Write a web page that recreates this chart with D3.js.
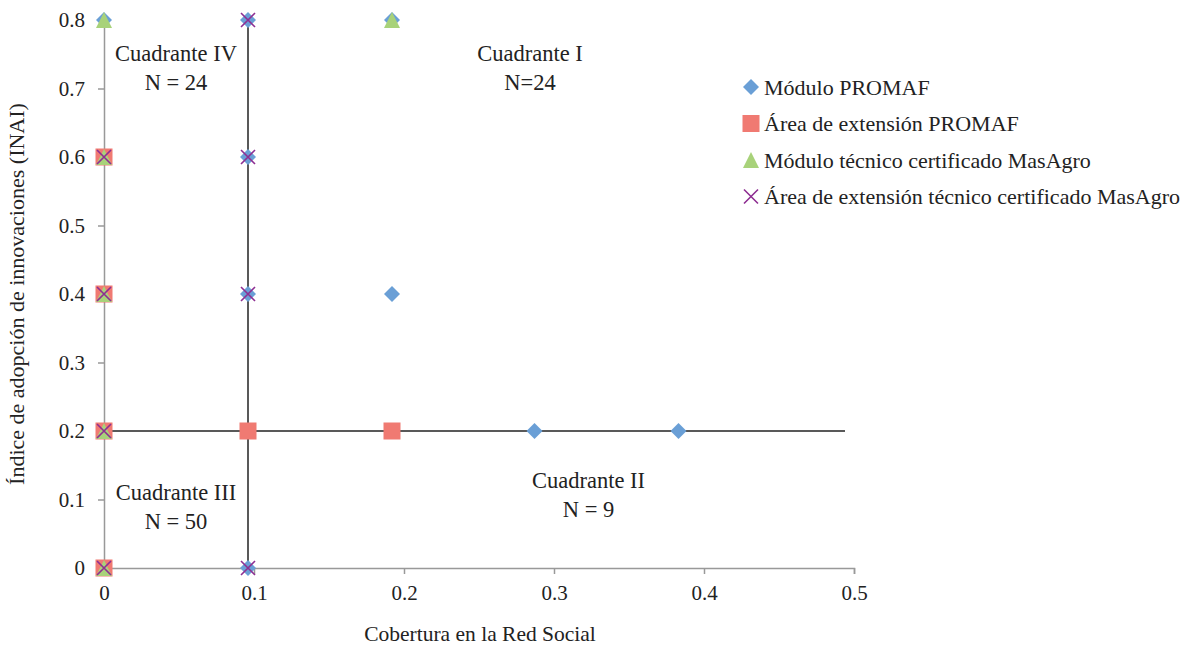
<!DOCTYPE html>
<html>
<head>
<meta charset="utf-8">
<script src="https://cdn.jsdelivr.net/npm/d3@7"></script>
<style>
  body { margin: 0; background: #fff; }
  svg text { font-family: "Liberation Serif", "DejaVu Serif", serif; fill: #222; }
</style>
</head>
<body>
<svg id="chart" width="1194" height="646"></svg>
<script>
// series (x = cobertura, y = INAI)
const seriesNames = ["Módulo PROMAF", "Área de extensión PROMAF",
                     "Módulo técnico certificado MasAgro", "Área de extensión técnico certificado MasAgro"];
const moduloPromaf = [[0, 0.8], [0.096, 0.8], [0.192, 0.8], [0.096, 0.6], [0.096, 0.4],
                      [0.192, 0.4], [0.287, 0.2], [0.383, 0.2], [0.096, 0]];
const areaPromaf = [[0, 0.6], [0, 0.4], [0, 0.2], [0, 0], [0.096, 0.2], [0.192, 0.2]];
const moduloMasAgro = [[0, 0.8], [0.192, 0.8], [0, 0.6], [0, 0.4], [0, 0.2], [0, 0]];
const areaMasAgro = [[0.096, 0.8], [0.096, 0.6], [0.096, 0.4], [0, 0.6], [0, 0.4],
                     [0, 0.2], [0, 0], [0.096, 0]];

const xTicks = [0, 0.1, 0.2, 0.3, 0.4, 0.5];
const yTicks = [0, 0.1, 0.2, 0.3, 0.4, 0.5, 0.6, 0.7, 0.8];

// quadrant divider lines
const vLineX = 0.096, hLineY = 0.2, hLineEnd = 0.494;

const quadrants = [
  { name: "Cuadrante IV", n: "N = 24", x: 0.048, y: 0.74 },
  { name: "Cuadrante I", n: "N=24", x: 0.284, y: 0.74 },
  { name: "Cuadrante III", n: "N = 50", x: 0.048, y: 0.1 },
  { name: "Cuadrante II", n: "N = 9", x: 0.323, y: 0.117 }
];

const colors = ["#6a9fd6", "#f07a72", "#a8d27a", "#8e2e92"];

const svg = d3.select("#chart");
const x = d3.scaleLinear().domain([0, 0.5]).range([104, 854]);
const y = d3.scaleLinear().domain([0, 0.8]).range([568, 20]);

// axes
const xAxis = d3.axisBottom(x).tickValues(xTicks).tickSize(6).tickPadding(11)
  .tickFormat(d => d === 0 ? "0" : d3.format(".1f")(d));
const yAxis = d3.axisLeft(y).tickValues(yTicks).tickSize(6).tickPadding(13)
  .tickFormat(d => d === 0 ? "0" : d3.format(".1f")(d));

const gx = svg.append("g").attr("transform", "translate(0,568)").call(xAxis);
const gy = svg.append("g").attr("transform", "translate(104,0)").call(yAxis);
[gx, gy].forEach(g => {
  g.attr("font-family", null);
  g.select(".domain").attr("stroke", "#999").attr("stroke-width", 1.5);
  g.selectAll(".tick line").attr("stroke", "#999").attr("stroke-width", 1.5);
  g.selectAll(".tick text").style("font-size", "21px").attr("fill", "#222");
});
gx.selectAll(".tick").filter(d => d === 0).select("line").remove();

// divider lines
svg.append("line")
  .attr("x1", x(vLineX)).attr("x2", x(vLineX))
  .attr("y1", y(0)).attr("y2", y(0.8))
  .attr("stroke", "#222").attr("stroke-width", 1.5);
svg.append("line")
  .attr("x1", x(0)).attr("x2", x(hLineEnd))
  .attr("y1", y(hLineY)).attr("y2", y(hLineY))
  .attr("stroke", "#222").attr("stroke-width", 1.5);

// markers
function drawMarker(g, i, cx, cy) {
  if (i === 0) {
    g.append("path").attr("d", `M${cx},${cy - 8}L${cx + 8},${cy}L${cx},${cy + 8}L${cx - 8},${cy}Z`)
      .attr("fill", colors[0]);
  } else if (i === 1) {
    g.append("rect").attr("x", cx - 8.5).attr("y", cy - 8.5).attr("width", 17).attr("height", 17)
      .attr("fill", colors[1]);
  } else if (i === 2) {
    g.append("path").attr("d", `M${cx},${cy - 8}L${cx + 8},${cy + 8}L${cx - 8},${cy + 8}Z`)
      .attr("fill", colors[2]);
  } else {
    g.append("path").attr("d", `M${cx - 7},${cy - 7}L${cx + 7},${cy + 7}M${cx - 7},${cy + 7}L${cx + 7},${cy - 7}`)
      .attr("stroke", colors[3]).attr("stroke-width", 1.6).attr("fill", "none");
  }
}

const allSeries = [moduloPromaf, areaPromaf, moduloMasAgro, areaMasAgro];
allSeries.forEach((pts, i) => {
  const g = svg.append("g");
  pts.forEach(p => drawMarker(g, i, x(p[0]), y(p[1])));
});

// quadrant labels
quadrants.forEach(q => {
  const t = svg.append("text").attr("text-anchor", "middle")
    .attr("x", x(q.x)).attr("y", y(q.y)).style("font-size", "22.5px");
  t.append("tspan").attr("x", x(q.x)).attr("dy", 0).text(q.name);
  t.append("tspan").attr("x", x(q.x)).attr("dy", 29).text(q.n);
});

// legend
const legend = svg.append("g");
seriesNames.forEach((name, i) => {
  const cy = 87 + i * 36.5;
  drawMarker(legend, i, 751, cy);
  legend.append("text").attr("x", 764).attr("y", cy).attr("dy", "0.35em")
    .style("font-size", "22px").text(name);
});

// axis titles
svg.append("text").attr("text-anchor", "middle")
  .attr("x", 480).attr("y", 641).style("font-size", "21.5px")
  .text("Cobertura en la Red Social");
svg.append("text").attr("text-anchor", "middle")
  .attr("transform", "translate(24,294) rotate(-90)").style("font-size", "22px")
  .text("Índice de adopción de innovaciones (INAI)");
</script>
</body>
</html>
